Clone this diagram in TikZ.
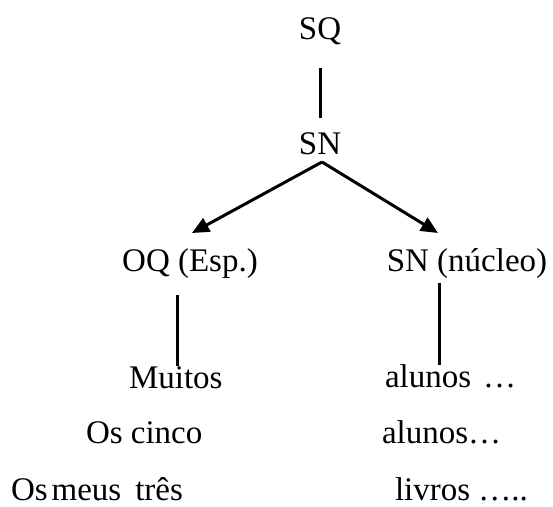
\documentclass[tikz,border=0pt]{standalone}
\usepackage{fontspec}
\setmainfont{Liberation Serif}
\usetikzlibrary{arrows.meta}
\tikzset{
  word/.style={inner sep=0pt, outer sep=0pt, text height=22pt, text depth=0pt,
    font=\fontsize{33pt}{39pt}\selectfont},
  branch/.style={line width=3pt, -{Triangle[length=17pt,width=15pt]}},
  stem/.style={line width=3pt},
}
\begin{document}
\begin{tikzpicture}[x=1pt,y=1pt]
\useasboundingbox (0,0) rectangle (553,506);
% tree labels
\node[word, anchor=base] (sq)  at (320,466) {SQ};
\node[word, anchor=base] (sn)  at (320,351) {SN};
\node[word, anchor=base] (oq)  at (190,234) {OQ (Esp.)};
\node[word, anchor=base] (nuc) at (467,234) {SN (núcleo)};
% examples
\node[word, anchor=base west] (muitos) at (129,118) {Muitos};
\node[word, anchor=base west] (alunosA) at (385,119) {alunos\hspace{12pt}…};
\node[word, anchor=base west] (cinco) at (86,63) {Os cinco};
\node[word, anchor=base west] (alunosB) at (382,63) {alunos…};
\node[word, anchor=base west] (tres) at (11,6) {Os\hspace{4pt}meus\hspace{14pt}três};
\node[word, anchor=base west] (livros) at (395,6) {livros …..};
% connectors
\draw[stem] ([yshift=-28pt]sq.south) -- ([yshift=15pt]sn.north);
\draw[branch] ([xshift=2pt,yshift=-7pt]sn.south) -- ([xshift=2pt,yshift=17pt]oq.north);
\draw[branch] ([xshift=2pt,yshift=-7pt]sn.south) -- ([xshift=-29pt,yshift=17pt]nuc.north);
\draw[stem] ([xshift=-13pt,yshift=-23pt]oq.south) coordinate (l1) -- (l1 |- muitos.north);
\draw[stem] ([xshift=-28pt,yshift=-11pt]nuc.south) coordinate (r1) -- (r1 |- alunosA.north);
\end{tikzpicture}
\end{document}
